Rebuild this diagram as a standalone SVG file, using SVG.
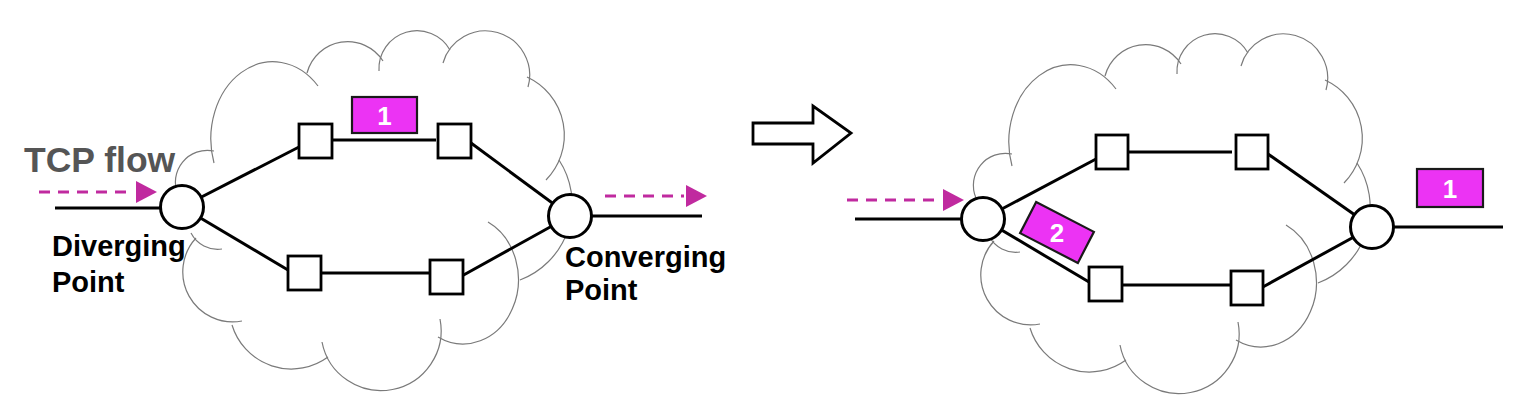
<svg xmlns="http://www.w3.org/2000/svg" xmlns:xlink="http://www.w3.org/1999/xlink" width="1514" height="410" viewBox="0 0 1514 410">
<style>
.cloud path{fill:none;stroke:#7a7a7a;stroke-width:1.2}
.link{stroke:#000;stroke-width:3;fill:none}
.sq{fill:#fff;stroke:#000;stroke-width:2.8}
.pt{fill:#fff;stroke:#000;stroke-width:3}
.flow{stroke:#c02a9f;stroke-width:3;stroke-dasharray:11 8;fill:none}
.head{fill:#c02a9f}
.pkt{fill:#ec33f4;stroke:#1a1a1a;stroke-width:2.2}
.pkttxt{font-family:"Liberation Sans",Arial,sans-serif;font-weight:bold;font-size:26px;fill:#fff;text-anchor:middle}
.lbl{font-family:"Liberation Sans",Arial,sans-serif;font-weight:bold;font-size:29px;fill:#000}
.tcp{font-family:"Liberation Sans",Arial,sans-serif;font-weight:bold;font-size:35.5px;fill:#555}
</style>
<defs>
<g id="cloudShape" class="cloud">
<path d="M178,195 A32,32 0 0 1 214,151"/>
<path d="M214,163 A62,77 0 0 1 318,86"/>
<path d="M307,73 A42,42 0 0 1 383,61"/>
<path d="M379,71 A38,38 0 0 1 450,50"/>
<path d="M443,63 A44,44 0 0 1 528,87"/>
<path d="M527,77 A64,64 0 0 1 546,180"/>
<path d="M559,160 A81,81 0 0 1 520,280"/>
<path d="M488,222 A55,64 0 1 1 438,337"/>
<path d="M440,319 A60,60 0 0 1 322,342"/>
<path d="M328,357 A62,62 0 0 1 232,325"/>
<path d="M242,321 A50,50 0 0 1 196,238"/>
<path d="M191,233 A30,30 0 0 0 222,249"/>
</g>
</defs>

<g id="cloud-left"><use xlink:href="#cloudShape" href="#cloudShape"/></g>
<g id="cloud-right"><use xlink:href="#cloudShape" href="#cloudShape" transform="translate(798,3)"/></g>

<g id="connectors">
<line class="link" x1="55" y1="208" x2="170" y2="208"/>
<line class="link" x1="182" y1="207" x2="299" y2="147"/>
<line class="link" x1="332" y1="140" x2="436" y2="140"/>
<line class="link" x1="471" y1="143" x2="570" y2="216"/>
<line class="link" x1="182" y1="207" x2="288" y2="270"/>
<line class="link" x1="321" y1="273" x2="430" y2="273"/>
<line class="link" x1="460" y1="277" x2="570" y2="216"/>
<line class="link" x1="580" y1="216" x2="702" y2="216"/>
<line class="link" x1="855" y1="219" x2="970" y2="219"/>
<line class="link" x1="983" y1="219" x2="1096" y2="159"/>
<line class="link" x1="1128" y1="152" x2="1232" y2="152"/>
<line class="link" x1="1268" y1="154" x2="1372" y2="227"/>
<line class="link" x1="983" y1="219" x2="1089" y2="282"/>
<line class="link" x1="1122" y1="285" x2="1232" y2="285"/>
<line class="link" x1="1261" y1="288" x2="1372" y2="227"/>
<line class="link" x1="1385" y1="227" x2="1503" y2="227"/>
<line class="flow" x1="39" y1="192" x2="134" y2="192"/>
<polygon class="head" points="136,181 157,192 136,203"/>
<line class="flow" x1="605" y1="196" x2="684" y2="196"/>
<polygon class="head" points="686,185 707,196 686,207"/>
<line class="flow" x1="847" y1="200" x2="941" y2="200"/>
<polygon class="head" points="943,189 964,200 943,211"/>
</g>

<g id="diverging-left"><circle class="pt" cx="182" cy="207" r="21.5"/></g>
<g id="converging-left"><circle class="pt" cx="570" cy="216" r="21.5"/></g>
<g id="router-l1"><rect class="sq" x="299" y="124" width="33" height="34"/></g>
<g id="router-l2"><rect class="sq" x="438" y="124" width="33" height="34"/></g>
<g id="router-l3"><rect class="sq" x="288" y="256" width="33" height="34"/></g>
<g id="router-l4"><rect class="sq" x="430" y="260" width="33" height="34"/></g>

<g id="diverging-right"><circle class="pt" cx="983" cy="219" r="21.5"/></g>
<g id="converging-right"><circle class="pt" cx="1372" cy="227" r="21.5"/></g>
<g id="router-r1"><rect class="sq" x="1096" y="135" width="32" height="34"/></g>
<g id="router-r2"><rect class="sq" x="1236" y="135" width="32" height="34"/></g>
<g id="router-r3"><rect class="sq" x="1089" y="267" width="33" height="34"/></g>
<g id="router-r4"><rect class="sq" x="1231" y="271" width="32" height="34"/></g>

<g id="packet-1-left"><rect class="pkt" x="352" y="97" width="65" height="36"/><text class="pkttxt" x="384.5" y="124.5">1</text></g>
<g id="packet-1-right"><rect class="pkt" x="1417" y="169" width="66" height="38"/><text class="pkttxt" x="1450" y="197.5">1</text></g>
<g id="packet-2"><rect class="pkt" x="-32.5" y="-17.5" width="65" height="35" transform="translate(1057,232.5) rotate(27.3)"/><text class="pkttxt" x="1057" y="242">2</text></g>

<g id="big-arrow"><polygon points="753,123 813,123 813,106 851,133 813,163 813,144 753,144" fill="#fff" stroke="#000" stroke-width="2.8" stroke-linejoin="miter"/></g>

<g id="labels">
<text class="tcp" x="24" y="172">TCP flow</text>
<text class="lbl" x="52" y="256">Diverging</text>
<text class="lbl" x="52" y="292">Point</text>
<text class="lbl" x="565" y="267">Converging</text>
<text class="lbl" x="565" y="300">Point</text>
</g>
</svg>
